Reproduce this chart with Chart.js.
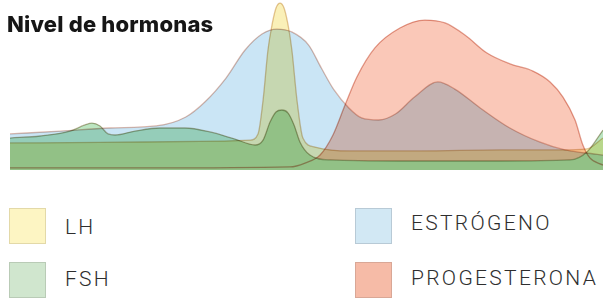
<!DOCTYPE html>
<html><head><meta charset="utf-8">
<script src="https://cdn.jsdelivr.net/npm/chart.js@4.4.0/dist/chart.umd.min.js"></script>
<style>
html,body{margin:0;padding:0;background:#fff;width:603px;height:299px;overflow:hidden;}
#wrap{position:absolute;left:0;top:0;width:603px;height:170px;}
#title{position:absolute;left:7px;top:11px;font:800 22px Inter,sans-serif;color:#161616;white-space:nowrap;letter-spacing:0.2px;}
.sw{position:absolute;box-sizing:border-box;border:1.5px solid;}
.lt{position:absolute;font:300 21px Roboto,sans-serif;color:#2e2e2e;white-space:nowrap;line-height:1;letter-spacing:2.3px;}
</style></head>
<body>
<div id="wrap"><canvas id="c" width="603" height="170"></canvas></div>
<div id="title">Nivel de hormonas</div>
<div id="legend"></div>
<script>
// Day of cycle (x) and relative level 0-100 (y) for each hormone
const estrogenDays   = [0, 2.4, 4.7, 6.9, 8.3, 9.2, 10.2, 11.1, 11.9, 12.6, 13.3, 14.1, 14.7, 15.3, 16.0, 16.6, 17.4, 18.2, 19.1, 20.2, 21.0, 22.2, 23.6, 25.0, 26.2, 27.2, 28];
const estrogenLevels = [21.2, 22.9, 24.7, 25.9, 31.2, 40, 54.1, 70.6, 80, 82.9, 81.2, 73.5, 60, 47.1, 36.5, 30.6, 29.4, 32.9, 42.9, 51.8, 47.6, 36.5, 24.7, 16.5, 11.8, 10, 8.8];

const lhDays   = [0, 4.25, 8.97, 11.33, 11.71, 11.95, 12.18, 12.37, 12.56, 12.75, 12.94, 13.13, 13.31, 13.55, 13.83, 14.4, 16.05, 19.36, 23.13, 25.97, 27.24, 28];
const lhLevels = [15.9, 16.2, 16.8, 17.6, 21.2, 41.2, 70.6, 85.3, 95.3, 98.2, 95.3, 85.3, 70.6, 41.2, 18.8, 13.5, 11.2, 11.2, 11.8, 11.8, 12.4, 18.8];

const fshDays   = [0, 1.42, 2.83, 3.54, 3.87, 4.25, 4.63, 4.96, 5.90, 7.08, 8.26, 9.44, 10.62, 11.57, 11.95, 12.28, 12.56, 12.84, 13.13, 13.41, 13.69, 14.16, 15.11, 18.41, 23.13, 26.44, 27.24, 28];
const fshLevels = [18.8, 20.0, 22.9, 26.5, 27.6, 25.9, 21.2, 20.6, 22.9, 24.7, 24.7, 22.4, 18.2, 14.7, 17.6, 28.2, 34.1, 35.3, 33.5, 26.5, 16.5, 8.8, 5.9, 5.3, 5.3, 5.9, 10.6, 23.5];

const progDays   = [0, 6.61, 13.22, 13.93, 14.64, 15.25, 15.82, 16.38, 17.23, 18.41, 19.59, 20.54, 21.48, 22.52, 23.61, 24.69, 25.5, 26.11, 26.68, 27.05, 27.38, 28];
const progLevels = [1.2, 1.2, 1.8, 4.1, 8.8, 20.6, 38.2, 54.7, 71.8, 83.5, 88.2, 86.5, 79.4, 68.8, 62.4, 58.2, 51.8, 42.9, 29.4, 14.7, 7.1, 2.9];

const seriesNames = ['LH', 'FSH', 'ESTRÓGENO', 'PROGESTERONA'];
const dayRange = [0, 28];

const pts = (xs, ys) => xs.map((x, i) => ({x, y: ys[i]}));

const multiply = {
  id: 'multiply',
  beforeDatasetsDraw(chart) { chart.ctx.save(); chart.ctx.globalCompositeOperation = 'multiply'; },
  afterDatasetsDraw(chart) { chart.ctx.restore(); }
};

new Chart(document.getElementById('c'), {
  type: 'line',
  data: {
    datasets: [
      { label: seriesNames[2], data: pts(estrogenDays, estrogenLevels), fill: 'origin',
        backgroundColor: '#cae5f5', borderColor: 'rgba(210,160,145,0.75)' },
      { label: seriesNames[0], data: pts(lhDays, lhLevels), fill: 'origin',
        backgroundColor: '#faf0b8', borderColor: 'rgba(215,175,120,0.7)' },
      { label: seriesNames[1], data: pts(fshDays, fshLevels), fill: 'origin',
        backgroundColor: '#bce5c1', borderColor: 'rgba(150,150,110,0.7)' },
      { label: seriesNames[3], data: pts(progDays, progLevels),
        fill: { target: 2, above: '#fac8b8', below: 'rgba(0,0,0,0)' },
        borderColor: 'rgba(215,130,110,0.75)' }
    ]
  },
  options: {
    responsive: false,
    animation: false,
    devicePixelRatio: 1,
    layout: { padding: { left: 10, right: 0, top: 0, bottom: 0 } },
    elements: { point: { radius: 0 }, line: { borderWidth: 1.3, cubicInterpolationMode: 'monotone' } },
    scales: {
      x: { type: 'linear', min: dayRange[0], max: dayRange[1], display: false },
      y: { min: 0, max: 100, display: false }
    },
    plugins: { legend: { display: false }, tooltip: { enabled: false } }
  },
  plugins: [multiply]
});

// HTML legend
const legendItems = [
  { name: seriesNames[0], fill: '#fdf5c3', stroke: '#e3d9a8', sx: 9,   sy: 208, tx: 65,  ty: 217 },
  { name: seriesNames[1], fill: '#d0e6ce', stroke: '#b9cbb6', sx: 9,   sy: 262, tx: 65,  ty: 269 },
  { name: seriesNames[2], fill: '#d2e8f4', stroke: '#b8cad6', sx: 355, sy: 208, tx: 411, ty: 213 },
  { name: seriesNames[3], fill: '#f6bba7', stroke: '#d9a796', sx: 355, sy: 262, tx: 411, ty: 268 }
];
const lg = document.getElementById('legend');
legendItems.forEach(it => {
  const s = document.createElement('div');
  s.className = 'sw';
  s.style.cssText = `left:${it.sx}px;top:${it.sy}px;width:37px;height:36px;background:${it.fill};border-color:${it.stroke};`;
  lg.appendChild(s);
  const t = document.createElement('div');
  t.className = 'lt';
  t.style.left = it.tx + 'px'; t.style.top = it.ty + 'px';
  t.textContent = it.name;
  lg.appendChild(t);
});
</script>
</body></html>
